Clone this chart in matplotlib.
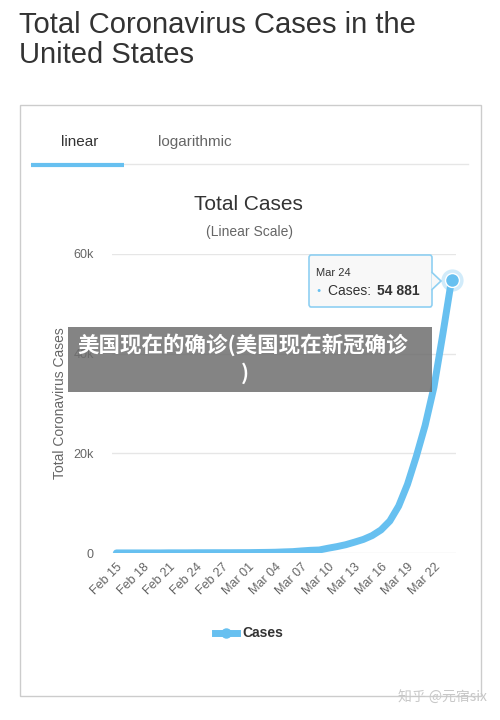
"""
Total Coronavirus Cases in the United States - linear scale card
"""
import matplotlib
matplotlib.use('Agg')
import matplotlib.pyplot as plt
from matplotlib.patches import FancyBboxPatch, Rectangle, Polygon
import pandas as pd

plt.rcParams['font.family'] = ['Liberation Sans', 'Noto Sans CJK SC', 'DejaVu Sans']

# ============================================================
# data
# ============================================================
dates = pd.date_range('2020-02-15', '2020-03-24', freq='D')
cases = [15, 15, 15, 15, 15, 15,
         35, 35, 35,
         53, 53, 59, 60, 62, 70,
         76, 101, 122, 153, 221, 278, 417, 537, 605, 959, 1281, 1663,
         2179, 2726, 3499, 4632, 6421, 9415, 13789, 19383, 25600, 33276,
         43847, 54881]
tick_labels = [d.strftime('%b %d') for d in dates[::3]]
y_ticks = [0, 20000, 40000, 60000]
y_tick_labels = ['0', '20k', '40k', '60k']

W, H = 500, 720
BLUE = '#67c0f0'


def fx(x):
    return x / W


def fy(y):
    return 1 - y / H


fig = plt.figure(figsize=(W / 100, H / 100), dpi=100)

# title
fig.text(fx(19), fy(33), 'Total Coronavirus Cases in the', fontsize=21, color='#333333', va='baseline')
fig.text(fx(19), fy(63), 'United States', fontsize=21, color='#333333', va='baseline')

# card frame
fig.patches.append(Rectangle((fx(20), fy(696)), fx(461), 591 / H, transform=fig.transFigure,
                             facecolor='none', edgecolor='#cccccc', linewidth=1))

# tabs
fig.text(fx(80), fy(142), 'linear', fontsize=11, color='#333333', ha='center', va='center')
fig.text(fx(195), fy(142), 'logarithmic', fontsize=11, color='#666666', ha='center', va='center')
fig.lines.append(plt.Line2D([fx(31), fx(468)], [fy(163.5), fy(163.5)], transform=fig.transFigure,
                            color='#e6e6e6', linewidth=1))
fig.lines.append(plt.Line2D([fx(31), fx(124)], [fy(165), fy(165)], transform=fig.transFigure,
                            color=BLUE, linewidth=3, solid_capstyle='butt'))

# chart titles
fig.text(fx(248), fy(204), 'Total Cases', fontsize=15, color='#333333', ha='center', va='center')
fig.text(fx(250), fy(232), '(Linear Scale)', fontsize=10, color='#666666', ha='center', va='center')

# ============================================================
# axes
# ============================================================
ax = fig.add_axes([fx(112), fy(553), (456 - 112) / W, (553 - 254) / H])
x = list(range(len(cases)))
ax.plot(x, cases, color=BLUE, linewidth=5, solid_capstyle='round', solid_joinstyle='round', zorder=3)
ax.plot(x[-1], cases[-1], 'o', color=BLUE, markersize=16, alpha=0.3, zorder=4, markeredgewidth=0,
        clip_on=False)
ax.plot(x[-1], cases[-1], 'o', color=BLUE, markersize=10, zorder=5, markeredgecolor='white',
        markeredgewidth=1, clip_on=False)
ax.set_xlim(-0.5, 38.5)
ax.set_ylim(0, 60000)
ax.set_yticks(y_ticks)
ax.set_yticklabels(y_tick_labels)
ax.set_xticks(x[::3])
ax.set_xticklabels(tick_labels, rotation=45, ha='right', rotation_mode='anchor')
ax.tick_params(axis='both', length=0, labelsize=9, colors='#666666')
ax.tick_params(axis='y', pad=13)
ax.tick_params(axis='x', pad=6)
ax.grid(axis='y', color='#e6e6e6', linewidth=1)
ax.set_axisbelow(True)
for s in ax.spines.values():
    s.set_visible(False)
ax.set_ylabel('Total Coronavirus Cases', fontsize=10, color='#666666', labelpad=5)

# tooltip
tip = FancyBboxPatch((fx(309), fy(307)), 123 / W, 52 / H, transform=fig.transFigure,
                     boxstyle='round,pad=0,rounding_size=0.004',
                     facecolor='#f8f8f8', edgecolor='#8fd0f2', linewidth=1.2, zorder=10)
fig.patches.append(tip)
fig.patches.append(Polygon([(fx(431.5), fy(272)), (fx(441), fy(281)), (fx(431.5), fy(290))],
                           closed=False, transform=fig.transFigure, facecolor='#f8f8f8',
                           edgecolor='#8fd0f2', linewidth=1.2, zorder=11))
fig.text(fx(316), fy(273), 'Mar 24', fontsize=8, color='#333333', va='center', zorder=12)
fig.text(fx(316), fy(291), '●', fontsize=5, color=BLUE, va='center', zorder=12)
fig.text(fx(328), fy(291), 'Cases: ', fontsize=10, color='#333333', va='center', zorder=12)
fig.text(fx(377), fy(291), '54 881', fontsize=10, color='#333333', va='center',
         fontweight='bold', zorder=12)

# legend
fig.lines.append(plt.Line2D([fx(215), fx(237)], [fy(633), fy(633)], transform=fig.transFigure,
                            color=BLUE, linewidth=5))
fig.lines.append(plt.Line2D([fx(226)], [fy(633)], transform=fig.transFigure,
                            color=BLUE, marker='o', markersize=6.5, linestyle='none'))
fig.text(fx(242), fy(633), 'Cases', fontsize=10, color='#333333', fontweight='bold', va='center')

# overlay banner
fig.patches.append(Rectangle((fx(68), fy(392)), 364 / W, 65 / H, transform=fig.transFigure,
                             facecolor='#6e6e6e', alpha=0.85, edgecolor='none', zorder=20))
fig.text(fx(77), fy(345), '美国现在的确诊(美国现在新冠确诊', fontsize=15.5, color='white',
         fontweight='bold', va='center', family=['Noto Sans CJK SC', 'DejaVu Sans'], zorder=21)
fig.text(fx(245), fy(373), ')', fontsize=15.5, color='white', fontweight='bold', va='center',
         ha='center', family=['Noto Sans CJK SC', 'DejaVu Sans'], zorder=21)

# watermark
fig.text(fx(487), fy(698), '知乎 @元宿six', fontsize=10, color='#c8c8c8', ha='right', va='center',
         family=['Noto Sans CJK SC', 'DejaVu Sans'])

fig.savefig('out.png', dpi=100, facecolor='white')
plt.close(fig)
